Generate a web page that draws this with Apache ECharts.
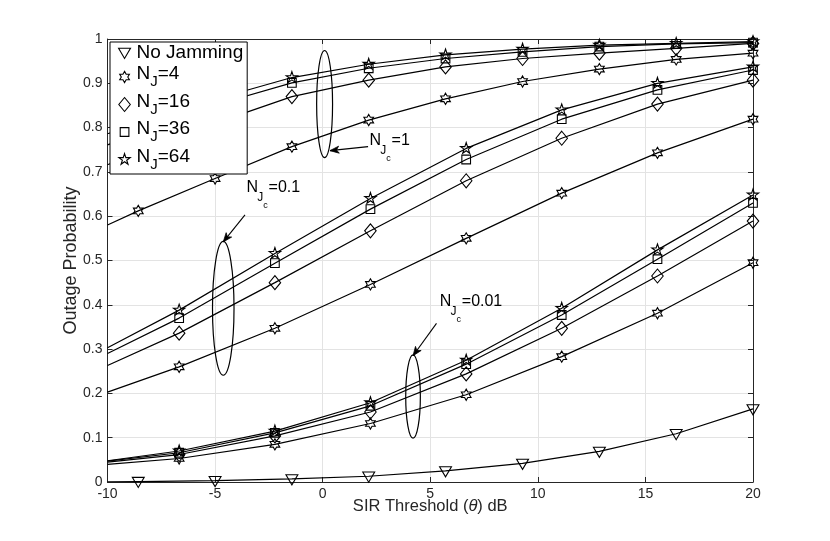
<!DOCTYPE html>
<html>
<head>
<meta charset="utf-8">
<script src="https://cdn.jsdelivr.net/npm/echarts@6.0.0/dist/echarts.min.js"></script>
<style>
html,body{margin:0;padding:0;background:#fff;}
#chart{width:830px;height:541px;}
</style>
</head>
<body>
<div id="chart"></div>
<script type="text/javascript">
// marker positions (the first point of every curve is drawn without a marker)
var xFine = [-10, -8.57, -5, -1.43, 2.14, 5.71, 9.29, 12.86, 16.43, 20];
var xCoarse = [-10, -6.67, -2.22, 2.22, 6.67, 11.11, 15.56, 20];

var njValues = [4, 16, 36, 64];

// no jamming
var noJamming = [0.0005, 0.001, 0.003, 0.007, 0.013, 0.025, 0.042, 0.069, 0.109, 0.165];

// N_Jc = 1  (on xFine)
var njc1_4  = [0.580, 0.612, 0.685, 0.757, 0.817, 0.865, 0.904, 0.932, 0.954, 0.968];
var njc1_16 = [0.716, 0.744, 0.810, 0.870, 0.907, 0.937, 0.956, 0.968, 0.979, 0.990];
var njc1_36 = [0.761, 0.787, 0.851, 0.901, 0.934, 0.956, 0.971, 0.983, 0.989, 0.992];
var njc1_64 = [0.786, 0.808, 0.864, 0.913, 0.943, 0.964, 0.977, 0.986, 0.990, 0.994];

// N_Jc = 0.1  (on xCoarse)
var njc01_4  = [0.203, 0.260, 0.347, 0.446, 0.550, 0.652, 0.743, 0.819];
var njc01_16 = [0.263, 0.336, 0.450, 0.567, 0.680, 0.776, 0.853, 0.907];
var njc01_36 = [0.290, 0.370, 0.494, 0.616, 0.728, 0.819, 0.885, 0.930];
var njc01_64 = [0.303, 0.388, 0.516, 0.640, 0.753, 0.840, 0.900, 0.937];

// N_Jc = 0.01  (on xCoarse)
var njc001_4  = [0.040, 0.053, 0.085, 0.132, 0.197, 0.283, 0.381, 0.495];
var njc001_16 = [0.045, 0.062, 0.104, 0.158, 0.244, 0.347, 0.465, 0.589];
var njc001_36 = [0.047, 0.066, 0.111, 0.172, 0.266, 0.377, 0.503, 0.630];
var njc001_64 = [0.048, 0.070, 0.115, 0.179, 0.275, 0.392, 0.524, 0.648];

var FONT = '"Liberation Sans", Arial, Helvetica, sans-serif';
var AXIS_COLOR = '#262626';

// marker outlines, all drawn in the same [-1,1] frame so one size fits all
var FRAME = 'M-1,-1 M1,1 ';
var SYM = {
	tri: 'path://' + FRAME + 'M-0.85,-0.6 L0.85,-0.6 L0,0.85 Z',
	hex: 'path://' + FRAME + 'M0,-0.8 L0.231,-0.4 L0.693,-0.4 L0.462,0 L0.693,0.4 L0.231,0.4 L0,0.8 L-0.231,0.4 L-0.693,0.4 L-0.462,0 L-0.693,-0.4 L-0.231,-0.4 Z',
	dia: 'path://' + FRAME + 'M0,-1 L0.82,0 L0,1 L-0.82,0 Z',
	sq:  'path://' + FRAME + 'M-0.62,-0.62 L0.62,-0.62 L0.62,0.62 L-0.62,0.62 Z',
	pent:'path://' + FRAME + 'M0,-0.85 L0.191,-0.263 L0.808,-0.263 L0.309,0.1 L0.5,0.688 L0,0.325 L-0.5,0.688 L-0.309,0.1 L-0.808,-0.263 L-0.191,-0.263 Z'
};
var njSymbols = [SYM.hex, SYM.dia, SYM.sq, SYM.pent];

function makeSeries(name, xs, ys, sym) {
	var data = [];
	for (var i = 0; i < xs.length; i++) {
		var item = {value: [xs[i], ys[i]]};
		if (i === 0) item.symbol = 'none';
		data.push(item);
	}
	return {
		type: 'line',
		name: name,
		data: data,
		symbol: sym,
		symbolSize: 14,
		symbolKeepAspect: true,
		showAllSymbol: true,
		silent: true,
		lineStyle: {color: '#000', width: 1.2},
		itemStyle: {color: 'rgba(0,0,0,0)', borderColor: '#000', borderWidth: 1.1},
		emphasis: {disabled: true}
	};
}

var series = [makeSeries('No Jamming', xFine, noJamming, SYM.tri)];
var groups = [
	[xFine, [njc1_4, njc1_16, njc1_36, njc1_64]],
	[xCoarse, [njc01_4, njc01_16, njc01_36, njc01_64]],
	[xCoarse, [njc001_4, njc001_16, njc001_36, njc001_64]]
];
groups.forEach(function (g) {
	g[1].forEach(function (ys, k) {
		series.push(makeSeries('NJ' + njValues[k], g[0], ys, njSymbols[k]));
	});
});

var legendData = [{name: 'No Jamming', icon: SYM.tri}];
njValues.forEach(function (n, k) {
	legendData.push({name: 'NJ' + n, icon: njSymbols[k]});
});

var chart = echarts.init(document.getElementById('chart'));

var option = {
	animation: false,
	backgroundColor: '#fff',
	grid: {left: 107.5, right: 77, top: 39, bottom: 59, outerBoundsMode: 'none'},
	legend: {
		data: legendData,
		orient: 'vertical',
		left: 110,
		top: 42,
		itemWidth: 14,
		itemHeight: 14,
		itemGap: 2.5,
		padding: [1, 4, 2, 7],
		backgroundColor: '#fff',
		borderColor: '#000',
		borderWidth: 1,
		selectedMode: false,
		itemStyle: {color: 'rgba(0,0,0,0)', borderColor: '#000', borderWidth: 1.1},
		textStyle: {
			color: '#000',
			fontFamily: FONT,
			fontSize: 19,
			rich: {
				m: {fontSize: 19, fontFamily: FONT, color: '#000'},
				n: {fontSize: 19, fontFamily: FONT, color: '#000', padding: [0, 0, 6, 0]},
				j: {fontSize: 15, fontFamily: FONT, color: '#000', padding: [10, 0, 0, 0]}
			}
		},
		formatter: function (name) {
			if (name === 'No Jamming') return '{m|No Jamming}';
			return '{n|N}{j|J}{n|=' + name.slice(2) + '}';
		}
	},
	xAxis: [{
		type: 'value',
		min: -10,
		max: 20,
		interval: 5,
		position: 'bottom',
		axisLine: {onZero: false, lineStyle: {color: AXIS_COLOR, width: 1}},
		axisTick: {inside: true, length: 5, lineStyle: {color: AXIS_COLOR}},
		axisLabel: {color: AXIS_COLOR, fontSize: 14, fontFamily: FONT, margin: 5},
		splitLine: {show: true, lineStyle: {color: '#e3e3e3', width: 1}},
		name: '{a|SIR Threshold (}{i|θ}{a|) dB}',
		nameLocation: 'middle',
		nameGap: 16,
		nameMoveOverlap: false,
		nameTextStyle: {
			color: AXIS_COLOR,
			rich: {
				a: {fontSize: 16.5, fontFamily: FONT, color: AXIS_COLOR},
				i: {fontSize: 16.5, fontFamily: FONT, fontStyle: 'italic', color: AXIS_COLOR}
			}
		}
	}, {
		type: 'value',
		min: -10,
		max: 20,
		interval: 5,
		position: 'top',
		axisLine: {onZero: false, lineStyle: {color: AXIS_COLOR, width: 1}},
		axisTick: {inside: true, length: 5, lineStyle: {color: AXIS_COLOR}},
		axisLabel: {show: false},
		splitLine: {show: false}
	}],
	yAxis: [{
		type: 'value',
		min: 0,
		max: 1,
		interval: 0.1,
		position: 'left',
		axisLine: {onZero: false, lineStyle: {color: AXIS_COLOR, width: 1}},
		axisTick: {inside: true, length: 5, lineStyle: {color: AXIS_COLOR}},
		axisLabel: {
			color: AXIS_COLOR, fontSize: 14, fontFamily: FONT, margin: 5,
			formatter: function (v) { return String(Math.round(v * 10) / 10); }
		},
		splitLine: {show: true, lineStyle: {color: '#e3e3e3', width: 1}},
		name: 'Outage Probability',
		nameLocation: 'middle',
		nameGap: 27,
		nameMoveOverlap: false,
		nameTextStyle: {color: AXIS_COLOR, fontSize: 18, fontFamily: FONT}
	}, {
		type: 'value',
		min: 0,
		max: 1,
		interval: 0.1,
		position: 'right',
		axisLine: {onZero: false, lineStyle: {color: AXIS_COLOR, width: 1}},
		axisTick: {inside: true, length: 5, lineStyle: {color: AXIS_COLOR}},
		axisLabel: {show: false},
		splitLine: {show: false}
	}],
	series: series
};
chart.setOption(option);

// ellipse / arrow / label annotations, anchored in data units
var notes = [
	{ell: [0.09, 0.853, 0.37, 0.121], arrow: [2.11, 0.757, 0.34, 0.748], text: [2.18, 0.770], val: '=1'},
	{ell: [-4.62, 0.392, 0.50, 0.151], arrow: [-3.61, 0.603, -4.62, 0.542], text: [-3.535, 0.665], val: '=0.1'},
	{ell: [4.20, 0.193, 0.34, 0.094], arrow: [5.29, 0.358, 4.20, 0.285], text: [5.443, 0.408], val: '=0.01'}
];

function px(p) { return chart.convertToPixel({gridIndex: 0}, p); }

var elements = [];
notes.forEach(function (nt) {
	var c = px([nt.ell[0], nt.ell[1]]);
	var e = px([nt.ell[0] + nt.ell[2], nt.ell[1] + nt.ell[3]]);
	elements.push({
		type: 'ellipse', silent: true, z: 10,
		shape: {cx: c[0], cy: c[1], rx: Math.abs(e[0] - c[0]), ry: Math.abs(e[1] - c[1])},
		style: {fill: 'none', stroke: '#000', lineWidth: 1.2}
	});

	var t = px([nt.arrow[0], nt.arrow[1]]);
	var h = px([nt.arrow[2], nt.arrow[3]]);
	elements.push({
		type: 'line', silent: true, z: 10,
		shape: {x1: t[0], y1: t[1], x2: h[0], y2: h[1]},
		style: {stroke: '#000', lineWidth: 1.1}
	});
	var ang = Math.atan2(h[1] - t[1], h[0] - t[0]);
	var L = 9, W = 3.5, back = 6.5;
	var ux = Math.cos(ang), uy = Math.sin(ang);
	elements.push({
		type: 'polygon', silent: true, z: 10,
		shape: {points: [
			[h[0], h[1]],
			[h[0] - L * ux - W * uy, h[1] - L * uy + W * ux],
			[h[0] - back * ux, h[1] - back * uy],
			[h[0] - L * ux + W * uy, h[1] - L * uy - W * ux]
		]},
		style: {fill: '#000', stroke: '#000', lineWidth: 0.8}
	});

	var a = px(nt.text);
	var parts = [
		['N', 0, 0, 16],
		['J', 10.7, 10, 12],
		['c', 16.7, 18, 9],
		[nt.val, 22, 0, 16]
	];
	parts.forEach(function (p) {
		elements.push({
			type: 'text', silent: true, z: 11,
			x: a[0] + p[1], y: a[1] + p[2],
			style: {
				text: p[0], fill: '#000',
				font: p[3] + 'px ' + FONT,
				textAlign: 'left', textVerticalAlign: 'middle'
			}
		});
	});
});
chart.setOption({graphic: {elements: elements}});
</script>
</body>
</html>
